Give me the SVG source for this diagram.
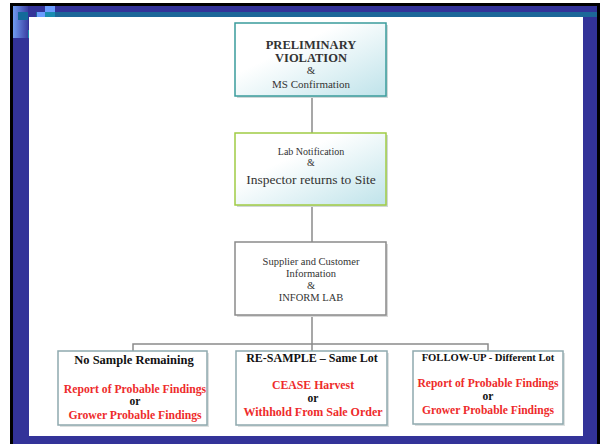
<svg xmlns="http://www.w3.org/2000/svg" width="600" height="444" viewBox="0 0 600 444">
<defs>
<linearGradient id="gBox" x1="0" y1="0" x2="1" y2="1">
<stop offset="0.35" stop-color="#ffffff"/>
<stop offset="1" stop-color="#bfe3ea"/>
</linearGradient>
<linearGradient id="gLeft" x1="0" y1="0" x2="1" y2="0">
<stop offset="0" stop-color="#6f9cf0"/>
<stop offset="1" stop-color="#3b3fa3"/>
</linearGradient>
<style>
.t{font-family:"Liberation Serif","Times New Roman",serif;fill:#333;text-anchor:middle}
.b{font-weight:bold}
.r{fill:#ee2b2b;font-weight:bold}
.k{fill:#111;font-weight:bold}
.ln{stroke:#8a8a8a;stroke-width:1.5;fill:none}
.bx{fill:#ffffff;stroke:#8fa9ae;stroke-width:1.5}
</style>
</defs>
<g id="frame">
<rect x="10" y="3" width="590" height="441" fill="#000"/>
<rect x="13" y="6" width="584" height="438" fill="#333399"/>
<rect x="36" y="12" width="561" height="5" fill="#1d6799"/>
<rect x="13" y="6" width="15" height="32" fill="url(#gLeft)"/>
<rect x="18" y="12" width="10" height="8" fill="#146a9a"/>
<rect x="28" y="30" width="1" height="8" fill="#1a8aaa"/>
<rect x="37" y="12" width="8" height="5" fill="#6a9cff"/>
<rect x="45" y="6" width="10" height="6" fill="#6a9cff"/>
<rect x="45" y="12" width="10" height="5" fill="#1a8cb0"/>
<rect x="29" y="17" width="554" height="419" fill="#ffffff"/>
</g>
<g id="connectors">
<line class="ln" x1="312" y1="97" x2="312" y2="133"/>
<line class="ln" x1="312" y1="206" x2="312" y2="242"/>
<line class="ln" x1="312" y1="316" x2="312" y2="344"/>
<polyline class="ln" points="133,351 133,344 488,344 488,351"/>
<line class="ln" x1="312" y1="344" x2="312" y2="351"/>
</g>
<g id="n1">
<rect x="237" y="25" width="151" height="73" fill="#d0d8d8"/>
<rect x="235" y="23" width="151" height="73" fill="url(#gBox)" stroke="#3a9c9c" stroke-width="1.5"/>
<text class="t b" x="311" y="49" font-size="12.5">PRELIMINARY</text>
<text class="t b" x="311" y="62" font-size="12.5">VIOLATION</text>
<text class="t" x="311" y="74" font-size="11">&amp;</text>
<text class="t" x="311" y="88" font-size="11">MS Confirmation</text>
</g>
<g id="n2">
<rect x="237" y="135" width="151" height="72" fill="#d0d8d8"/>
<rect x="235" y="133" width="151" height="72" fill="url(#gBox)" stroke="#a0cc44" stroke-width="1.5"/>
<text class="t" x="311" y="155" font-size="10">Lab Notification</text>
<text class="t" x="311" y="166" font-size="10">&amp;</text>
<text class="t" x="311" y="184" font-size="13.5">Inspector returns to Site</text>
</g>
<g id="n3">
<rect x="237" y="244" width="151" height="73" fill="#d8d8d8"/>
<rect x="235" y="242" width="151" height="73" fill="#ffffff" stroke="#8a8a8a" stroke-width="1.5"/>
<text class="t" x="311" y="265" font-size="10.5">Supplier and Customer</text>
<text class="t" x="311" y="277" font-size="10.5">Information</text>
<text class="t" x="311" y="289" font-size="10.5">&amp;</text>
<text class="t" x="311" y="301" font-size="10.5">INFORM LAB</text>
</g>
<g id="n4">
<rect x="60" y="353" width="149" height="74" fill="#dde0e0"/>
<rect class="bx" x="58" y="351" width="149" height="74"/>
<text class="t k" x="134" y="364" font-size="12.5">No Sample Remaining</text>
<text class="t r" x="135" y="393" font-size="11.7">Report of Probable Findings</text>
<text class="t k" x="135" y="405" font-size="11.5">or</text>
<text class="t r" x="135" y="419" font-size="11.7">Grower Probable Findings</text>
</g>
<g id="n5">
<rect x="238" y="353" width="151" height="74" fill="#dde0e0"/>
<rect class="bx" x="236" y="351" width="151" height="74"/>
<text class="t k" x="312" y="362" font-size="12">RE-SAMPLE – Same Lot</text>
<text class="t r" x="313" y="389" font-size="11.8">CEASE Harvest</text>
<text class="t k" x="313" y="402" font-size="11.5">or</text>
<text class="t r" x="313" y="416" font-size="12">Withhold From Sale Order</text>
</g>
<g id="n6">
<rect x="415" y="353" width="150" height="73" fill="#dde0e0"/>
<rect class="bx" x="413" y="351" width="150" height="73"/>
<text class="t k" x="488" y="361" font-size="10.6">FOLLOW-UP - Different Lot</text>
<text class="t r" x="488" y="387" font-size="11.6">Report of Probable Findings</text>
<text class="t k" x="488" y="400" font-size="11.5">or</text>
<text class="t r" x="488" y="414" font-size="11.6">Grower Probable Findings</text>
</g>
</svg>
